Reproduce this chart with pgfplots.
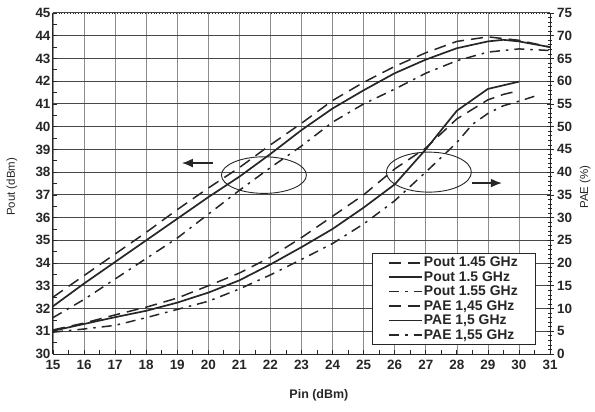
\documentclass[border=0pt]{standalone}
\usepackage{pgfplots}
\pgfplotsset{compat=1.18}
\usetikzlibrary{arrows.meta}
\usepackage{fontspec}
\setmainfont{Liberation Sans}
\definecolor{ink}{HTML}{262626}
\definecolor{hgrid}{HTML}{484848}
\definecolor{vgrid}{HTML}{8C8C8C}
\tikzset{
 sA/.style={ink, line width=1.5bp, dash pattern=on 12bp off 7bp},
 sB/.style={ink, line width=1.7bp},
 sC/.style={ink, line width=1.5bp, dash pattern=on 10bp off 6bp on 2.5bp off 6bp},
}
\pgfplotstableread{
x y
15 32.5
16 33.45
17 34.4
18 35.35
19 36.35
20 37.3
21 38.2
22 39.2
23 40.15
24 41.15
25 41.95
26 42.65
27 43.25
28 43.75
29 43.95
30 43.8
31 43.5
}\poutA
\pgfplotstableread{
x y
15 32.1
16 33.1
17 34.05
18 35.0
19 35.95
20 36.9
21 37.8
22 38.8
23 39.85
24 40.8
25 41.6
26 42.35
27 42.95
28 43.45
29 43.75
29.5 43.82
30 43.75
31 43.5
}\poutB
\pgfplotstableread{
x y
15 31.6
16 32.4
17 33.3
18 34.2
19 35.1
20 36.15
21 37.2
22 38.2
23 39.15
24 40.2
25 41.0
26 41.65
27 42.35
28 42.9
29 43.28
30 43.42
31 43.35
}\poutC
\pgfplotstableread{
x y
15 5.3
16 6.8
17 8.6
18 10.3
19 12.3
20 15.0
21 17.8
22 21.3
23 25.6
24 30.3
25 35.0
26 40.7
27 45.3
28 51.7
29 55.9
29.5 57.1
30 57.9
}\paeA
\pgfplotstableread{
x y
15 5.1
16 6.6
17 8.1
18 9.5
19 11.3
20 13.5
21 16.2
22 19.7
23 23.5
24 27.5
25 32.2
26 37.3
27 45.0
28 53.5
29 58.3
30 59.9
}\paeB
\pgfplotstableread{
x y
15 4.8
16 5.5
17 6.3
18 8.0
19 9.8
20 11.6
21 14.3
22 17.4
23 20.8
24 24.3
25 28.6
26 33.7
27 40.0
28 46.5
28.5 50.5
29 52.9
29.5 54.6
30 55.6
30.6 56.9
}\paeC
\begin{document}
\begin{tikzpicture}
\useasboundingbox (-53bp,-58bp) rectangle (542bp,354bp);
\begin{axis}[
 scale only axis, width=497bp, height=341bp,
 xmin=15, xmax=31, ymin=30, ymax=45,
 xtick={15,...,31}, ytick={30,...,45},
 minor x tick num=1, minor y tick num=1,
 axis x line*=bottom, axis y line*=left,
 tick align=inside,
 major tick length=4bp, minor tick length=4bp,
 xmajorgrids, ymajorgrids,
 x grid style={vgrid, line width=0.6bp},
 y grid style={hgrid, line width=1bp},
 axis line style={ink, line width=1bp},
 tick style={ink, line width=0.7bp},
 ticklabel style={font=\fontsize{13.5}{13.5}\selectfont\bfseries, text=ink},
 xticklabel style={yshift=-3bp},
 yticklabel style={xshift=1bp},
 /pgf/number format/assume math mode=true,
 xlabel={Pin (dBm)}, ylabel={Pout (dBm)},
 xlabel style={font=\fontsize{12.5}{12.5}\selectfont\bfseries, text=ink, at={(axis description cs:0.535,-0.12)}, anchor=center},
 ylabel style={font=\fontsize{11.5}{11.5}\selectfont, text=ink, at={(axis description cs:-0.0825,0.49)}, anchor=center},
]
\addplot[sA] table {\poutA};
\addplot[sB] table {\poutB};
\addplot[sC] table {\poutC};
\draw[ink, dotted, line width=0.8bp] (rel axis cs:0,1) -- (rel axis cs:1,1);
\draw[ink, line width=0.9bp] (axis cs:21.79,37.87) ellipse [x radius=42.5bp, y radius=18.3bp];
\draw[ink, line width=0.9bp] (axis cs:27.1,38.0) ellipse [x radius=42.5bp, y radius=20bp];
\draw[ink, line width=1.5bp, -{Latex[length=11bp,width=9bp]}] (axis cs:20.15,38.4) -- (axis cs:19.15,38.4);
\draw[ink, line width=1.5bp, -{Latex[length=11bp,width=9bp]}] (axis cs:28.48,37.52) -- (axis cs:29.45,37.52);
\end{axis}
\begin{axis}[
 scale only axis, width=497bp, height=341bp,
 xmin=15, xmax=31, ymin=0, ymax=75,
 axis y line*=right, axis x line=none,
 ytick={0,5,...,75}, minor y tick num=4,
 tick align=center, major tick length=7bp, minor tick length=4bp,
 axis line style={ink, line width=1bp},
 tick style={ink, line width=0.7bp},
 ticklabel style={font=\fontsize{13.5}{13.5}\selectfont\bfseries, text=ink},
 /pgf/number format/assume math mode=true,
 ylabel={PAE (\%)},
 ylabel style={font=\fontsize{11.5}{11.5}\selectfont, text=ink, at={(axis description cs:1.0705,0.49)}, anchor=center},
 legend image code/.code={\draw[#1] (0bp,0bp) -- (33bp,0bp);},
 legend cell align=left,
 legend style={at={(axis description cs:0.642,0.027)}, anchor=south west,
   draw=ink, fill=white,
   font=\fontsize{14}{14}\selectfont\bfseries, text=ink,
   inner xsep=16bp, inner ysep=3bp, row sep=1.2bp,
   nodes={inner sep=1bp}},
]
\addlegendimage{sA}
\addlegendentry{Pout 1.45 GHz}
\addlegendimage{sB}
\addlegendentry{Pout 1.5 GHz}
\addlegendimage{sC}
\addlegendentry{Pout 1.55 GHz}
\addplot[sA] table {\paeA};
\addlegendentry{PAE 1,45 GHz}
\addplot[sB] table {\paeB};
\addlegendentry{PAE 1,5 GHz}
\addplot[sC] table {\paeC};
\addlegendentry{PAE 1,55 GHz}
\end{axis}
\end{tikzpicture}
\end{document}
